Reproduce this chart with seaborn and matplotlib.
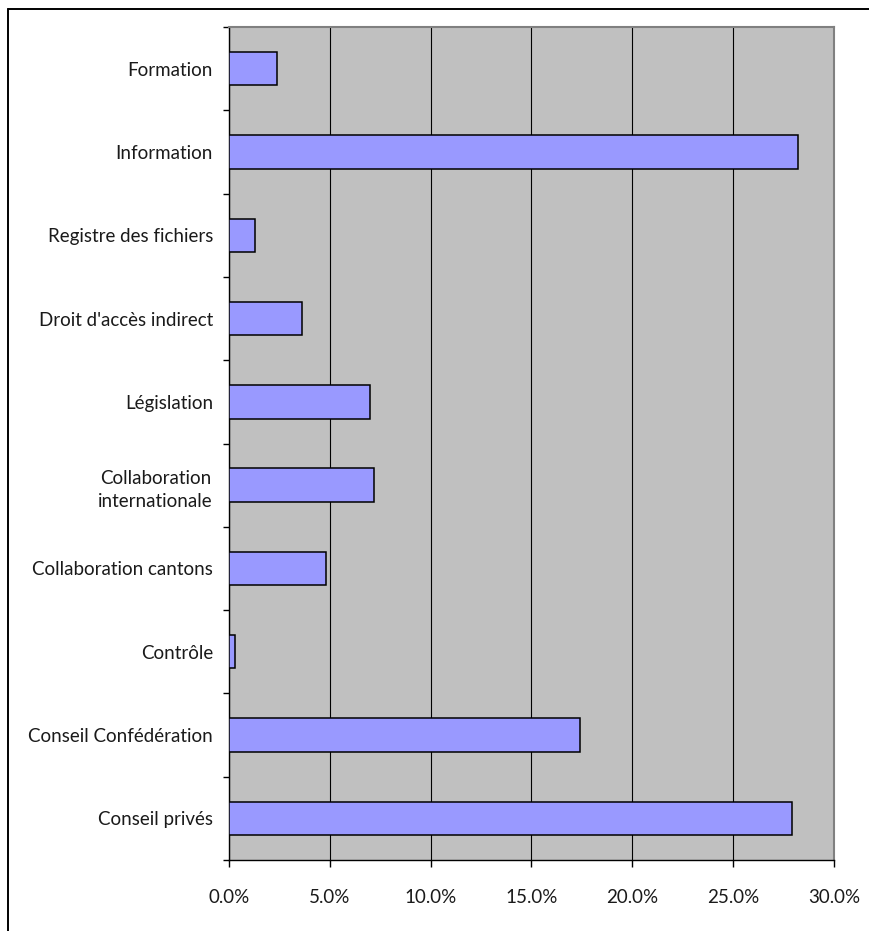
import numpy as np
import pandas as pd
import matplotlib
matplotlib.use("Agg")
import matplotlib.pyplot as plt
from matplotlib.lines import Line2D
from matplotlib.ticker import FuncFormatter
import seaborn as sns

# Share of activity per domain (percent)
categories = [
    "Formation",
    "Information",
    "Registre des fichiers",
    "Droit d'accès indirect",
    "Législation",
    "Collaboration\ninternationale",
    "Collaboration cantons",
    "Contrôle",
    "Conseil Confédération",
    "Conseil privés",
]
shares = [2.4, 28.2, 1.3, 3.6, 7.0, 7.2, 4.8, 0.3, 17.4, 27.9]
x_ticks = [0, 5, 10, 15, 20, 25, 30]

df = pd.DataFrame({"domaine": categories, "part": shares})

sns.set_style("white")
plt.rcParams["font.family"] = ["Lato", "DejaVu Sans"]

fig = plt.figure(figsize=(8.7, 9.31), dpi=100)
ax = fig.add_axes([229 / 870, 1 - 860 / 931, (834 - 229) / 870, (860 - 27) / 931])

sns.barplot(
    data=df, x="part", y="domaine", orient="h", order=categories,
    color="#9999FF", saturation=1, edgecolor="black", linewidth=1.1,
    width=0.4, ax=ax, zorder=3,
)

ax.set_facecolor("#C0C0C0")
ax.set_xlim(0, 30)
ax.set_ylim(len(categories) - 0.5, -0.5)
ax.set_xlabel("")
ax.set_ylabel("")

# vertical grid lines at every 5 %
ax.set_xticks(x_ticks)
ax.xaxis.set_major_formatter(FuncFormatter(lambda v, _: f"{v:.1f}%"))
ax.grid(axis="x", color="black", linewidth=0.8, zorder=1)
ax.grid(axis="y", visible=False)
ax.set_axisbelow(True)

# category labels centred, tick marks between categories
ax.set_yticks(range(len(categories)))
ax.set_yticklabels(categories, multialignment="center")
for lbl in ax.get_yticklabels():
    lbl.set_linespacing(1.45)
ax.set_yticks(np.arange(-0.5, len(categories), 1.0), minor=True)
ax.tick_params(axis="y", which="major", length=0, pad=11.5, labelsize=13.5, labelcolor="#1a1a1a")
ax.tick_params(axis="y", which="minor", length=4.5, width=1, color="black", left=True)
ax.tick_params(axis="x", which="major", length=5, width=1, color="black",
               bottom=True, pad=16, labelsize=13.5, labelcolor="#1a1a1a")

for side in ("left", "bottom"):
    ax.spines[side].set_color("black")
    ax.spines[side].set_linewidth(1.0)
for side in ("top", "right"):
    ax.spines[side].set_visible(True)
    ax.spines[side].set_color("#808080")
    ax.spines[side].set_linewidth(1.5)

# outer frame along the top and left of the figure
fx, fy = 8 / 870, 1 - 9 / 931
fig.add_artist(Line2D([fx, 1.01], [fy, fy], transform=fig.transFigure, color="black", linewidth=1.4))
fig.add_artist(Line2D([fx, fx], [-0.01, fy], transform=fig.transFigure, color="black", linewidth=1.4))

fig.savefig("out.png", dpi=100, facecolor="white")
